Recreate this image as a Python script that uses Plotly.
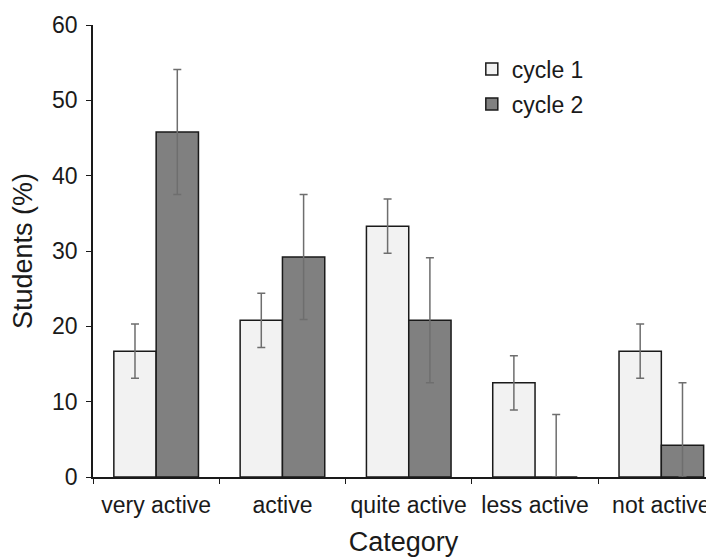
import plotly.graph_objects as go

categories = ["very active", "active", "quite active", "less active", "not active"]
cycle1 = [16.7, 20.8, 33.3, 12.5, 16.7]
cycle2 = [45.8, 29.2, 20.8, 0.0, 4.2]
cycle1_err = [3.6, 3.6, 3.6, 3.6, 3.6]
cycle2_err = [8.3, 8.3, 8.3, 8.3, 8.3]

FONT = "Liberation Sans, Arial, sans-serif"

def err_minus(vals, errs):
    # error bars stop at the axis
    return [min(v, e) for v, e in zip(vals, errs)]

fig = go.Figure()
fig.add_trace(go.Bar(
    x=categories, y=cycle1, name="cycle 1", legendgroup="c1",
    marker=dict(color="#f2f2f2", line=dict(color="#1a1a1a", width=1.5)),
    error_y=dict(type="data", array=cycle1_err, arrayminus=err_minus(cycle1, cycle1_err),
                 color="#6e6e6e", thickness=1.5, width=4),
))
fig.add_trace(go.Bar(
    x=categories, y=cycle2, name="cycle 2", legendgroup="c2",
    marker=dict(color="#808080", line=dict(color="#1a1a1a", width=1.5)),
    error_y=dict(type="data", array=cycle2_err, arrayminus=err_minus(cycle2, cycle2_err),
                 color="#6e6e6e", thickness=1.5, width=4),
))

# page body has an 8px margin, so the figure is sized to fit the window
fig.update_layout(
    width=706, height=549,
    margin=dict(l=85, r=0, t=17, b=80, autoexpand=False),
    paper_bgcolor="white", plot_bgcolor="white",
    font=dict(family=FONT, size=23, color="#1a1a1a"),
    barmode="group", bargap=0.33, bargroupgap=0,
    legend=dict(x=0.61, y=0.95, xanchor="left", yanchor="top",
                bgcolor="rgba(0,0,0,0)", tracegroupgap=2,
                font=dict(size=23), itemwidth=30),
)
fig.update_xaxes(
    range=[-0.5, 4.417], showline=True, linecolor="#1a1a1a", linewidth=1.5,
    ticks="outside", tickson="boundaries", ticklen=5, tickcolor="#1a1a1a",
    tickfont=dict(size=23), tickangle=0, automargin=False, ticklabelstandoff=7,
    title=dict(text="Category", standoff=24, font=dict(size=27)), showgrid=False,
)
fig.update_yaxes(
    range=[0, 60], dtick=10, showline=True, linecolor="#1a1a1a", linewidth=1.5,
    ticks="outside", ticklen=5, tickcolor="#1a1a1a", showgrid=False, zeroline=False,
    tickfont=dict(size=23), automargin=False, ticklabelstandoff=4,
    title=dict(text="Students (%)", standoff=14, font=dict(size=27)),
)

fig.write_html("out.html")
